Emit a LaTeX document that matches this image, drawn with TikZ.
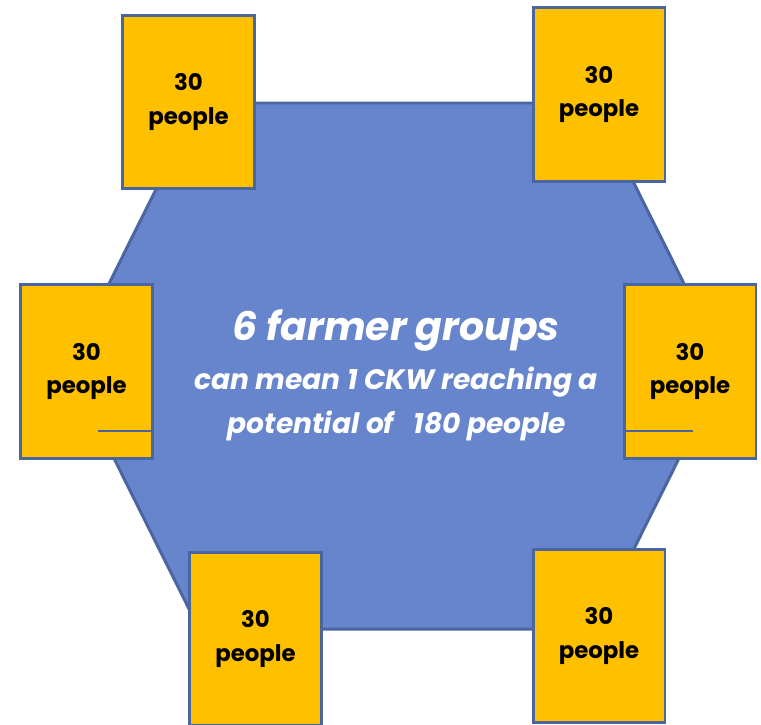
\documentclass[tikz,border=0pt]{standalone}
\usepackage{fontspec}
\usepackage{xcolor}
\usepackage{tikz}
\usetikzlibrary{positioning}
\newfontfamily\geofont{Poppins}
\definecolor{hexfill}{HTML}{6685CC}
\definecolor{edge}{HTML}{4A65A0}
\definecolor{groupfill}{HTML}{FFC000}

\begin{document}
\begin{tikzpicture}[x=0.02cm,y=-0.02cm,
  grp/.style={draw=edge,fill=groupfill,line width=1.7pt,inner sep=0pt,
              outer sep=0pt,minimum width=2.64cm,minimum height=3.48cm,
              align=center,font=\geofont\fontsize{13}{19}\selectfont\bfseries},
  msg/.style={anchor=base,text=white,font=\geofont\bfseries\itshape},
  rule/.style={draw=edge,line width=0.6pt}
]
\clip (0,0) rectangle (761,724);
\useasboundingbox (0,0) rectangle (761,724);

% hexagon
\fill[hexfill] (199,103) -- (594,103) -- (725,366) -- (594,629)
  -- (199,629) -- (68,366) -- cycle;
\draw[edge,line width=1.7pt,line join=miter] (199,103) -- (594,103)
  -- (725,366) -- (594,629) -- (199,629) -- (68,366) -- cycle;

% centre text
\node[msg,font=\geofont\fontsize{22.4}{26}\selectfont\bfseries\itshape]
  (head) at (396,340) {6 farmer groups};
\node[msg,font=\geofont\fontsize{16}{19}\selectfont\bfseries\itshape]
  (lineA) at (396,389) {can mean 1 CKW reaching a};
\node[msg,font=\geofont\fontsize{16}{19}\selectfont\bfseries\itshape]
  (lineB) at (397,433) {potential of\ \ \ 180 people};

% farmer groups
\node[grp] (gTL) at (188.5,102) {30\\people};
\node[grp] (gTR) at (599,94.5) {30\\people};
\node[grp] (gML) at (86.5,371.5) {30\\people};
\node[grp] (gMR) at (690,371.5) {30\\people};
\node[grp] (gBL) at (255.5,639) {30\\people};
\node[grp] (gBR) at (599,636) {30\\people};

% stray rules
\coordinate (mL) at (98,431);
\coordinate (mR) at (693,431);
\draw[rule] (mL) -- (mL -| gML.east);
\draw[rule] (gMR.west |- mR) -- (mR);
\end{tikzpicture}
\end{document}
